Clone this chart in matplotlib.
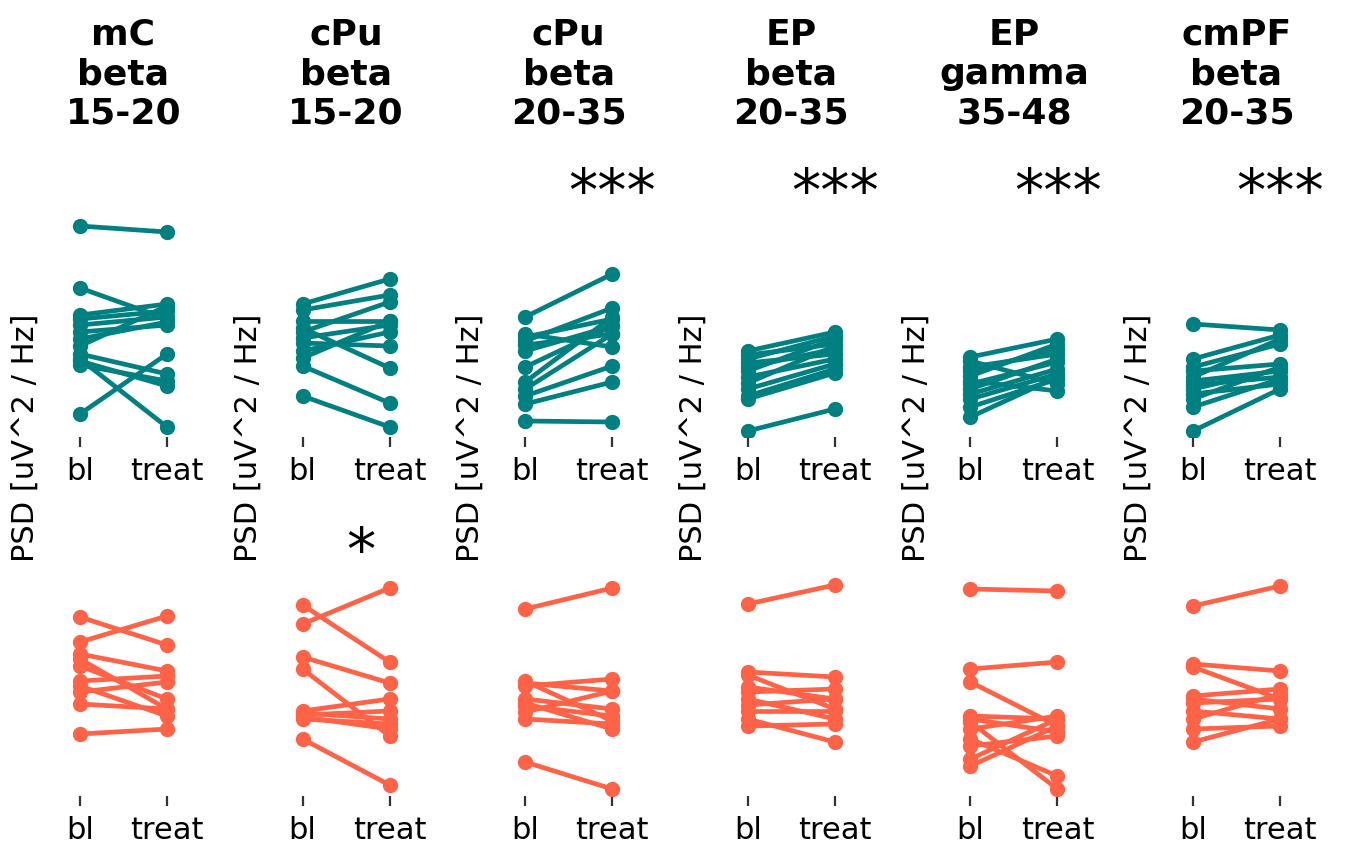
import numpy as np
import matplotlib
matplotlib.use("Agg")
import matplotlib.pyplot as plt

# column titles and significance marks
titles = ["mC\nbeta\n15-20", "cPu\nbeta\n15-20", "cPu\nbeta\n20-35",
          "EP\nbeta\n20-35", "EP\ngamma\n35-48", "cmPF\nbeta\n20-35"]
stars_top = ["", "", "***", "***", "***", "***"]
stars_bottom = ["", "*", "", "", "", ""]
conditions = ["bl", "treat"]

# top row (teal), PSD in arbitrary units, paired bl -> treat
top_bl = [
    [21.1, 14.9, 12.2, 11.8, 11.2, 10.5, 9.8, 9.1, 8.3, 7.8, 7.6, 7.2, 2.3],
    [13.3, 12.7, 11.6, 10.9, 10.5, 9.9, 9.4, 8.6, 7.9, 7.1, 4.1],
    [12.0, 10.3, 10.0, 9.6, 9.2, 8.6, 7.0, 5.5, 4.8, 4.1, 3.3, 1.6],
    [8.6, 8.2, 7.8, 7.4, 7.0, 6.6, 6.0, 5.4, 4.8, 4.1, 3.8, 0.6],
    [8.0, 7.6, 7.0, 6.6, 6.1, 5.6, 5.3, 4.8, 4.3, 3.8, 3.0, 2.0],
    [11.3, 7.8, 7.0, 6.6, 6.0, 5.6, 5.2, 4.8, 4.3, 3.8, 3.0, 0.6],
]
top_treat = [
    [20.5, 11.8, 13.3, 12.6, 12.0, 11.2, 11.5, 13.1, 6.3, 1.0, 5.1, 5.6, 8.3],
    [15.8, 14.2, 11.6, 6.9, 13.5, 11.2, 9.1, 10.5, 11.6, 3.4, 1.0],
    [16.3, 9.0, 11.8, 12.9, 10.3, 11.1, 11.1, 12.0, 10.3, 7.1, 5.5, 1.5],
    [10.5, 9.3, 10.1, 8.3, 8.8, 9.8, 7.8, 9.1, 7.3, 6.8, 6.4, 2.8],
    [9.8, 5.3, 8.3, 8.8, 9.3, 4.6, 7.5, 7.8, 6.8, 6.3, 5.8, 6.0],
    [10.7, 10.2, 9.3, 7.3, 9.8, 6.6, 6.0, 6.8, 5.3, 7.0, 5.8, 4.8],
]

# bottom row (tomato)
bot_bl = [
    [17.9, 15.4, 14.2, 13.7, 13.0, 11.5, 11.0, 10.4, 9.2, 6.2],
    [19.1, 17.2, 13.9, 12.7, 8.5, 8.3, 8.1, 7.9, 7.7, 5.7],
    [18.7, 11.5, 11.3, 11.0, 9.7, 9.3, 9.0, 8.4, 7.7, 3.4],
    [19.2, 12.4, 12.1, 10.9, 10.4, 9.7, 9.1, 8.5, 7.7, 7.0],
    [20.7, 12.7, 11.4, 8.0, 7.7, 7.4, 6.7, 5.7, 5.0, 3.7, 3.0],
    [19.0, 13.2, 12.9, 10.0, 9.7, 9.3, 8.5, 7.7, 6.7, 5.4],
]
bot_treat = [
    [15.1, 18.0, 12.5, 8.7, 9.7, 12.0, 8.0, 11.4, 8.7, 6.7],
    [13.4, 20.8, 11.3, 6.0, 9.7, 7.7, 8.5, 6.7, 7.2, 1.1],
    [20.8, 7.5, 10.5, 11.7, 8.7, 6.7, 8.0, 10.5, 7.2, 0.7],
    [21.1, 11.9, 8.7, 9.7, 10.7, 7.7, 9.7, 8.5, 5.4, 7.2],
    [20.5, 13.4, 7.0, 7.7, 6.4, 0.7, 8.0, 2.0, 6.0, 7.7, 7.0],
    [21.0, 12.5, 9.7, 10.7, 8.7, 9.7, 7.7, 10.2, 7.0, 7.7],
]

fig = plt.figure(figsize=(6.745, 4.27), dpi=200)

left0 = 36.5 / 1349
step = 222.6 / 1349
width = 174 / 1349
height = 238 / 854
bottoms = [1 - 438 / 854, 1 - 797 / 854]


def paired(ax, bl, tr, color, stars):
    for a, b in zip(bl, tr):
        ax.plot([0, 1], [a, b], "o-", color=color, lw=1.7, ms=4.5)
    ax.set_xlim(-0.5, 1.5)
    ax.set_ylim(0, 23.8)
    ax.set_xticks([0, 1])
    ax.set_xticklabels(conditions, fontsize=11)
    ax.tick_params(axis="x", colors="#333333", labelcolor="black")
    ax.set_yticks([])
    for s in ax.spines.values():
        s.set_visible(False)
    if stars:
        ax.text(0.5, 22.7, stars, ha="left", va="baseline", fontsize=21)


for i in range(6):
    ax_t = fig.add_axes([left0 + i * step, bottoms[0], width, height])
    ax_b = fig.add_axes([left0 + i * step, bottoms[1], width, height])
    paired(ax_t, top_bl[i], top_treat[i], "teal", stars_top[i])
    paired(ax_b, bot_bl[i], bot_treat[i], "tomato", stars_bottom[i])
    ax_t.set_ylabel("PSD [uV^2 / Hz]", fontsize=11)
    ax_t.yaxis.set_label_coords(0.02, 0.0)
    ax_t.text(0.5, 1.765, titles[i], transform=ax_t.transAxes, ha="center",
              va="top", fontsize=13, fontweight="bold")

fig.savefig("out.png")
